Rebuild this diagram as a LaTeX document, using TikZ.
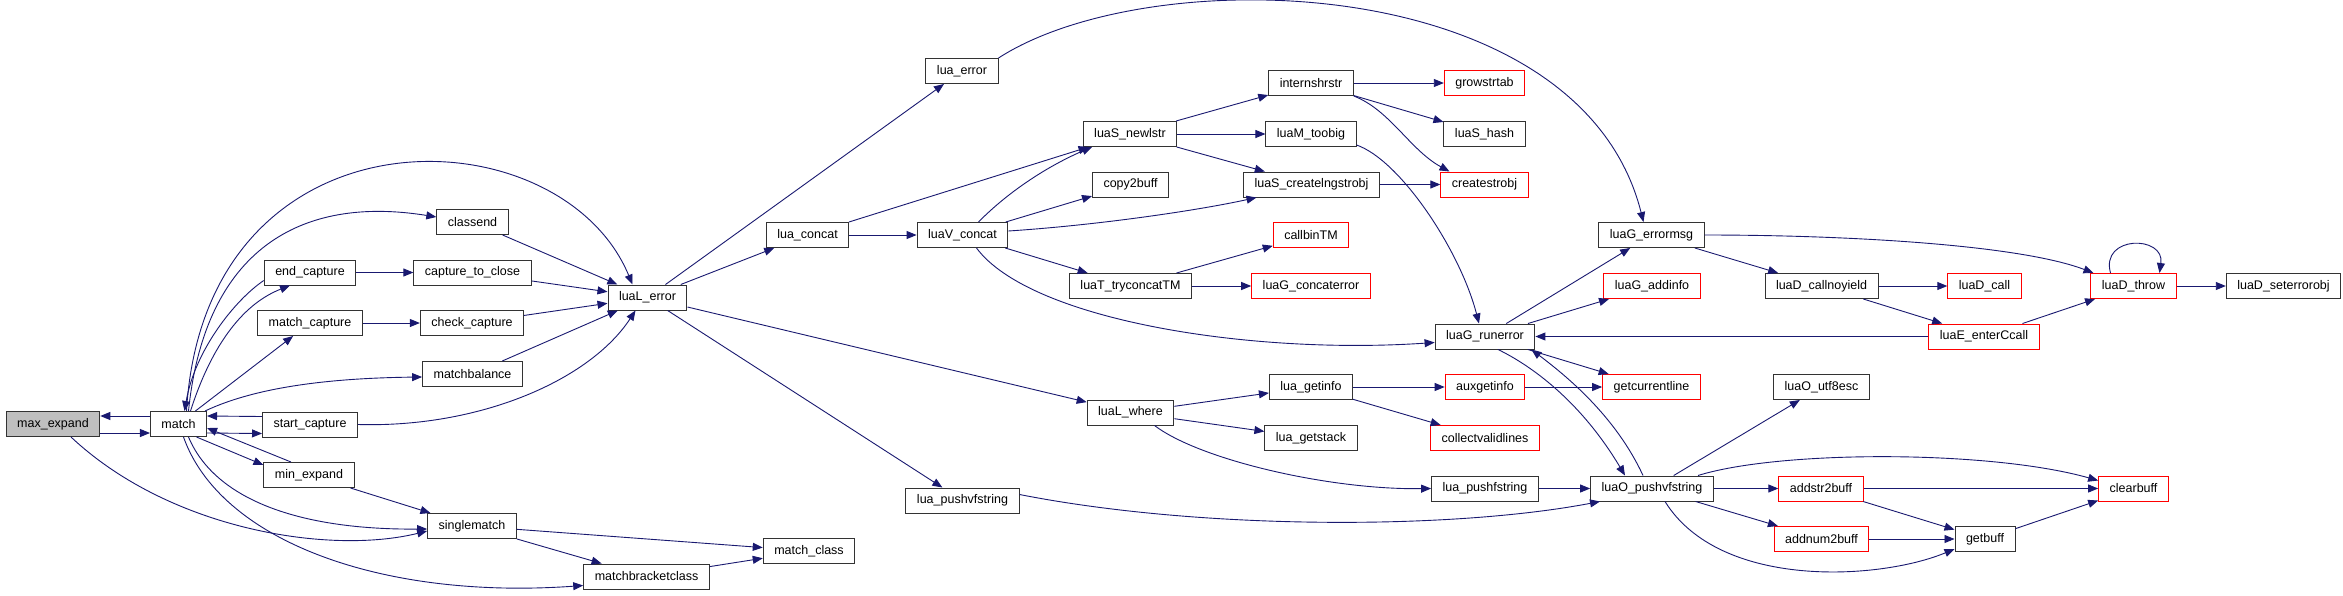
\documentclass[tikz,border=0pt]{standalone}
\usepackage{fontspec}
\setmainfont{Liberation Sans}
\usepackage{xcolor}
\usepackage{tikz}
\usetikzlibrary{arrows.meta}
\definecolor{dxblue}{HTML}{191970}
\newcommand{\dxfont}{\fontsize{12.5}{14}\selectfont}
\tikzstyle{fn} = [draw=black!80, fill=white, line width=1pt,
    minimum height=25, inner xsep=11, inner ysep=0, font=\dxfont]
\tikzstyle{fnred} = [fn, draw=red]
\tikzstyle{fnroot} = [fn, fill=black!25]
\tikzstyle{arr} = [-{Triangle[length=10pt,width=8pt]}, line width=0.9pt, draw=dxblue]

\begin{document}
\begin{tikzpicture}[x=1pt, y=-1pt]
  \path[use as bounding box, fill=white] (0,0) rectangle (2343,595);

  % Column 1-2: pattern matching
  \node[fnroot] (maxexp) at (53,424) {max\_expand};
  \node[fn] (match) at (178.5,424) {match};
  \node[fn] (endcap) at (310,272.5) {end\_capture};
  \node[fn] (matchcap) at (310,323) {match\_capture};
  \node[fn] (startcap) at (310,424.5) {start\_capture};
  \node[fn] (minexp) at (309,475) {min\_expand};
  \node[fn] (classend) at (472.5,222) {classend};
  \node[fn] (cap2close) at (472.5,272.5) {capture\_to\_close};
  \node[fn] (checkcap) at (472,323) {check\_capture};
  \node[fn] (matchbal) at (472.5,374) {matchbalance};
  \node[fn] (single) at (472,526) {singlematch};
  \node[fn] (mbclass) at (646.5,576.5) {matchbracketclass};
  \node[fn] (mclass) at (809,551) {match\_class};

  % Column 3-4: error entry
  \node[fn] (lerror) at (647.5,297.5) {luaL\_error};
  \node[fn] (laerror) at (962,71) {lua\_error};
  \node[fn] (concat) at (807.5,235) {lua\_concat};
  \node[fn] (vconcat) at (962.5,235) {luaV\_concat};
  \node[fn] (pushvf) at (962.5,500.5) {lua\_pushvfstring};

  % Column 5: strings, where
  \node[fn] (newlstr) at (1130,134) {luaS\_newlstr};
  \node[fn] (copybuf) at (1130.5,184.5) {copy2buff};
  \node[fn] (tryconcat) at (1130.5,286) {luaT\_tryconcatTM};
  \node[fn] (where) at (1130.5,412.5) {luaL\_where};

  % Column 6
  \node[fn] (intern) at (1311,83) {internshrstr};
  \node[fn] (toobig) at (1311,134) {luaM\_toobig};
  \node[fn] (lngstr) at (1311.5,184.5) {luaS\_createlngstrobj};
  \node[fnred] (callbin) at (1311,235) {callbinTM};
  \node[fnred] (concaterr) at (1311,286) {luaG\_concaterror};
  \node[fn] (getinfo) at (1311,387) {lua\_getinfo};
  \node[fn] (getstack) at (1311,438) {lua\_getstack};

  % Column 7
  \node[fnred] (growtab) at (1484.5,83) {growstrtab};
  \node[fn] (hash) at (1484.5,134) {luaS\_hash};
  \node[fnred] (createobj) at (1484.5,184.5) {createstrobj};
  \node[fn] (runerror) at (1485,336.5) {luaG\_runerror};
  \node[fnred] (auxinfo) at (1485,387) {auxgetinfo};
  \node[fnred] (validlines) at (1485,438) {collectvalidlines};
  \node[fn] (pushf) at (1485,488.5) {lua\_pushfstring};

  % Column 8
  \node[fn] (errormsg) at (1651.5,235) {luaG\_errormsg};
  \node[fnred] (addinfo) at (1652,286) {luaG\_addinfo};
  \node[fnred] (curline) at (1651.5,387) {getcurrentline};
  \node[fn] (opushvf) at (1652,488.5) {luaO\_pushvfstring};

  % Column 9-11
  \node[fn] (noyield) at (1821.5,286) {luaD\_callnoyield};
  \node[fn] (utfesc) at (1821.5,387) {luaO\_utf8esc};
  \node[fnred] (addstr) at (1821,488.5) {addstr2buff};
  \node[fnred] (addnum) at (1821.5,539) {addnum2buff};
  \node[fnred] (dcall) at (1984.5,286) {luaD\_call};
  \node[fnred] (enterc) at (1984,336.5) {luaE\_enterCcall};
  \node[fn] (getbuff) at (1985,539) {getbuff};
  \node[fnred] (throw) at (2133.5,286) {luaD\_throw};
  \node[fnred] (clearbuff) at (2133.5,488.5) {clearbuff};
  \node[fn] (seterr) at (2283.5,286) {luaD\_seterrorobj};

  % Arrows: matching
  \draw[arr] ([yshift=8pt]match.west) -- ([yshift=8pt]maxexp.east);
  \draw[arr] ([yshift=-9pt]maxexp.east) -- ([yshift=-9pt]match.west);
  \draw[arr] ([xshift=18pt]maxexp.south) .. controls (170,530) and (330,555) .. ([yshift=-5pt]single.west);
  \draw[arr] ([xshift=10pt]match.north) .. controls (205,250) and (300,195) .. ([yshift=5pt]classend.west);
  \draw[arr] ([xshift=8pt]match.north) .. controls (205,100) and (560,110) .. ([xshift=-15pt]lerror.north);
  \draw[arr] ([yshift=-8pt]endcap.west) .. controls (235,300) and (195,350) .. ([xshift=6pt]match.north);
  \draw[arr] ([xshift=12pt]match.north) .. controls (210,350) and (240,305) .. ([xshift=-20pt]endcap.south);
  \draw[arr] (match) -- (matchcap);
  \draw[arr] ([xshift=-2pt]match.north east) .. controls (260,385) and (340,378) .. ([yshift=-3pt]matchbal.west);
  \draw[arr] ([yshift=8pt]startcap.west) -- ([yshift=8pt]match.east);
  \draw[arr] ([yshift=-9pt]match.east) -- ([yshift=-9pt]startcap.west);
  \draw[arr] ([xshift=-18pt]minexp.north) -- ([yshift=-4pt]match.east);
  \draw[arr] ([xshift=18pt]match.south) -- ([yshift=10pt]minexp.west);
  \draw[arr] ([xshift=10pt]match.south) .. controls (215,500) and (300,530) .. ([yshift=-3pt]single.west);
  \draw[arr] ([xshift=5pt]match.south) .. controls (220,540) and (380,600) .. ([yshift=-9pt]mbclass.west);
  \draw[arr] (minexp) -- (single);
  \draw[arr] (endcap) -- (cap2close);
  \draw[arr] (matchcap) -- (checkcap);
  \draw[arr] (single) -- (mclass);
  \draw[arr] (single) -- (mbclass);
  \draw[arr] (mbclass) -- (mclass);
  \draw[arr] (classend) -- (lerror);
  \draw[arr] (cap2close) -- (lerror);
  \draw[arr] (checkcap) -- (lerror);
  \draw[arr] (matchbal) -- (lerror);
  \draw[arr] (startcap.east) .. controls (480,428) and (590,380) .. ([xshift=-12pt]lerror.south);

  % Arrows: luaL_error and below
  \draw[arr] (lerror) -- (laerror);
  \draw[arr] (lerror) -- (concat);
  \draw[arr] (lerror) -- (where);
  \draw[arr] (lerror) -- (pushvf);
  \draw[arr] (laerror.north east) .. controls (1150,-40) and (1580,-30) .. ([xshift=-8pt]errormsg.north);
  \draw[arr] (concat) -- (newlstr);
  \draw[arr] (concat) -- (vconcat);
  \draw[arr] ([xshift=16pt]vconcat.north) .. controls (1010,190) and (1050,165) .. ([xshift=-38pt]newlstr.south);
  \draw[arr] (vconcat) -- (copybuf);
  \draw[arr] ([yshift=4pt]vconcat.east) .. controls (1100,225) and (1200,210) .. ([xshift=-55pt]lngstr.south);
  \draw[arr] (vconcat) -- (tryconcat);
  \draw[arr] ([xshift=14pt]vconcat.south) .. controls (1030,320) and (1250,355) .. ([yshift=-6pt]runerror.west);
  \draw[arr] (newlstr) -- (intern);
  \draw[arr] (newlstr) -- (toobig);
  \draw[arr] (newlstr) -- (lngstr);
  \draw[arr] (intern) -- (growtab);
  \draw[arr] (intern) -- (hash);
  \draw[arr] (intern.south east) .. controls (1390,110) and (1410,150) .. ([xshift=-35pt]createobj.north);
  \draw[arr] (lngstr) -- (createobj);
  \draw[arr] ([yshift=2pt]toobig.south east) .. controls (1400,160) and (1460,250) .. ([xshift=-6pt]runerror.north);
  \draw[arr] (tryconcat) -- (callbin);
  \draw[arr] (tryconcat) -- (concaterr);
  \draw[arr] (where) -- (getinfo);
  \draw[arr] (where) -- (getstack);
  \draw[arr] ([xshift=24pt]where.south) .. controls (1200,460) and (1330,490) .. (pushf.west);
  \draw[arr] (getinfo) -- (auxinfo);
  \draw[arr] (getinfo) -- (validlines);
  \draw[arr] (auxinfo) -- (curline);
  \draw[arr] (pushf) -- (opushvf);
  \draw[arr] ([yshift=6pt]pushvf.east) .. controls (1200,530) and (1450,530) .. ([xshift=-52pt]opushvf.south);

  % Arrows: runerror, errormsg, throw
  \draw[arr] (runerror) -- (errormsg);
  \draw[arr] (runerror) -- (addinfo);
  \draw[arr] (runerror) -- (curline);
  \draw[arr] ([xshift=13pt]runerror.south) .. controls (1530,365) and (1580,400) .. ([xshift=-27pt]opushvf.north);
  \draw[arr] ([xshift=-9pt]opushvf.north) .. controls (1615,415) and (1565,375) .. ([xshift=-4pt]runerror.south east);
  \draw[arr] (enterc) -- (runerror);
  \draw[arr] (errormsg) -- (noyield);
  \draw[arr] (errormsg.east) .. controls (1850,235) and (2020,245) .. ([xshift=-40pt]throw.north);
  \draw[arr] (noyield) -- (dcall);
  \draw[arr] (noyield) -- (enterc);
  \draw[arr] (enterc) -- (throw);
  \draw[arr] ([xshift=-23pt]throw.north) .. controls (2100,235) and (2165,235) .. ([xshift=26pt]throw.north);
  \draw[arr] (throw) -- (seterr);

  % Arrows: buffers
  \draw[arr] (opushvf) -- (utfesc);
  \draw[arr] (opushvf) -- (addstr);
  \draw[arr] (opushvf) -- (addnum);
  \draw[arr] ([xshift=46pt]opushvf.north) .. controls (1780,450) and (1990,450) .. ([yshift=8pt]clearbuff.west);
  \draw[arr] ([xshift=13pt]opushvf.south) .. controls (1720,590) and (1880,580) .. ([yshift=-10pt]getbuff.west);
  \draw[arr] (addstr) -- (clearbuff);
  \draw[arr] (addstr) -- (getbuff);
  \draw[arr] (addnum) -- (getbuff);
  \draw[arr] (getbuff) -- (clearbuff);
\end{tikzpicture}
\end{document}
